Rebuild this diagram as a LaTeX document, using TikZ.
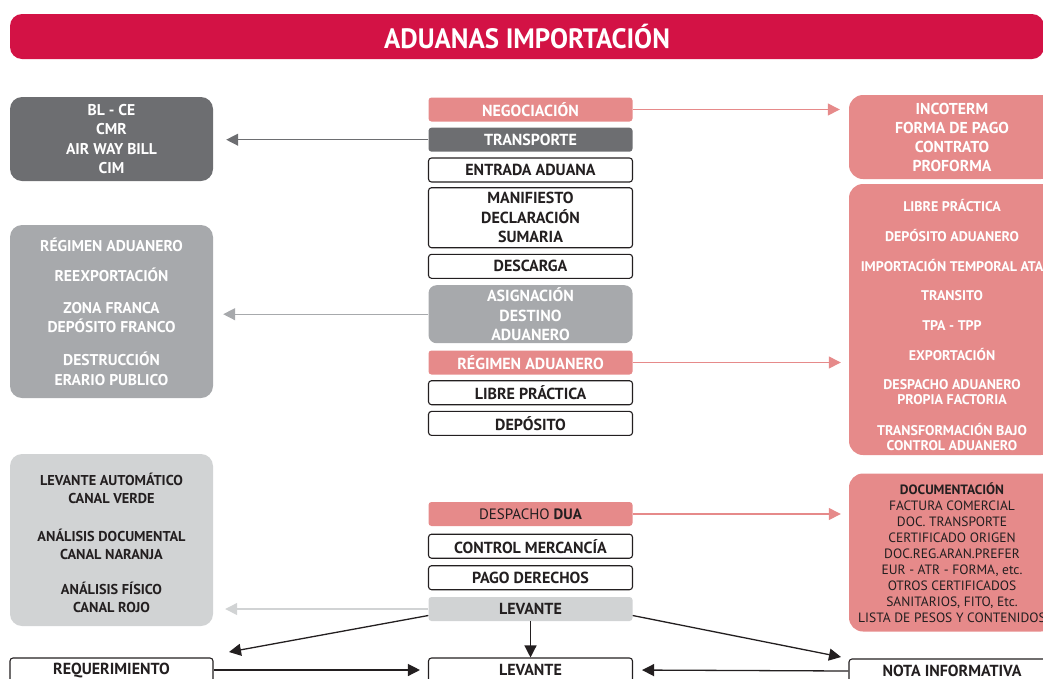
\documentclass[tikz,border=0pt]{standalone}
\usepackage{fontspec}
\setmainfont{PT Sans}
\newfontfamily\titlefont{PT Sans}[FakeStretch=0.96]
\usetikzlibrary{arrows.meta}
\definecolor{carmin}{HTML}{D31245}
\definecolor{rosa}{HTML}{E68A8A}
\definecolor{grisosc}{HTML}{6D6E71}
\definecolor{grismed}{HTML}{A7A9AC}
\definecolor{grisclaro}{HTML}{D1D3D4}
\definecolor{tinta}{HTML}{231F20}

\begin{document}
\begin{tikzpicture}[x=1pt,y=-1pt,
>={Triangle[length=12pt,width=12pt]},
titulo/.style={rectangle, rounded corners=12pt, fill=carmin, text=white, minimum width=1034pt, minimum height=45pt, font=\titlefont\bfseries\fontsize{28}{30}\selectfont},
paso/.style={rectangle, rounded corners=3pt, minimum width=204pt, minimum height=24pt, inner sep=0pt, align=center, font=\bfseries\fontsize{16}{19.5}\selectfont},
pasoblanco/.style={paso, draw=tinta, line width=1.1pt, fill=white, text=tinta},
pasorosa/.style={paso, fill=rosa, text=white},
pasogris/.style={paso, fill=grisosc, text=white},
lado/.style={rectangle, rounded corners=12pt, minimum width=203pt, inner sep=0pt, align=center, font=\bfseries\fontsize{15.6}{19.5}\selectfont},
derecha/.style={rectangle, rounded corners=14pt, minimum width=206pt, inner sep=0pt, align=center, fill=rosa, font=\bfseries\fontsize{15.8}{19}\selectfont},
texto/.style={align=center, inner sep=0pt},
flecha/.style={->, line width=1.3pt},
]
\useasboundingbox (0,0) rectangle (1043,678);

\node[titulo]                                   (tit)     at (527,36.5)  {ADUANAS IMPORTACIÓN};

\node[lado, fill=grisosc, text=white, minimum height=84pt]   (doc1)  at (111.5,139)   {BL - CE\\CMR\\AIR WAY BILL\\CIM};
\node[lado, fill=grismed, text=white, minimum height=173pt]  (reg1)  at (111.5,311.5) {RÉGIMEN ADUANERO\\[10.5pt]REEXPORTACIÓN\\[12.5pt]ZONA FRANCA\\DEPÓSITO FRANCO\\[13.5pt]DESTRUCCIÓN\\ERARIO PUBLICO};
\node[lado, fill=grisclaro, minimum height=172pt]            (canal) at (111.5,540)   {};
\node[texto, text=tinta, font=\bfseries\fontsize{14.3}{18}\selectfont] (canaltxt) at (111.5,543) {LEVANTE AUTOMÁTICO\\CANAL VERDE\\[20pt]ANÁLISIS DOCUMENTAL\\CANAL NARANJA\\[17pt]ANÁLISIS FÍSICO\\CANAL ROJO};
\node[pasoblanco, minimum width=203pt]         (req)     at (111.5,670)   {REQUERIMIENTO};

\node[pasorosa]                                 (neg)     at (530.5,109.5) {NEGOCIACIÓN};
\node[pasogris]                                 (trans)   at (530.5,139.7) {TRANSPORTE};
\node[pasoblanco]                               (entrada) at (530.5,170)   {ENTRADA ADUANA};
\node[pasoblanco, minimum height=60pt]          (manif)   at (530.5,217.7) {MANIFIESTO\\DECLARACIÓN\\SUMARIA};
\node[pasoblanco]                               (desc)    at (530.5,266.3) {DESCARGA};
\node[paso, fill=grismed, text=white, rounded corners=8pt, minimum height=58pt] (asign) at (530.5,314.2) {ASIGNACIÓN\\DESTINO\\ADUANERO};
\node[pasorosa]                                 (regimen) at (530.5,362.5) {RÉGIMEN ADUANERO};
\node[pasoblanco]                               (libre)   at (530.5,392.7) {LIBRE PRÁCTICA};
\node[pasoblanco]                               (depo)    at (530.5,423.4) {DEPÓSITO};
\node[pasorosa, text=tinta, font=\fontsize{15}{19.5}\selectfont] (dua) at (530.5,514) {DESPACHO \textbf{DUA}};
\node[pasoblanco]                               (control) at (530.5,546.2) {CONTROL MERCANCÍA};
\node[pasoblanco]                               (pago)    at (530.5,577.7) {PAGO DERECHOS};
\node[paso, fill=grisclaro, text=tinta]         (lev)     at (530.5,609)   {LEVANTE};
\node[pasoblanco]                               (levfin)  at (530.5,670)   {LEVANTE};

\node[derecha, text=white, minimum height=84pt]  (incot)  at (952,137)   {INCOTERM\\FORMA DE PAGO\\CONTRATO\\PROFORMA};
\node[derecha, minimum height=271pt]            (regim)   at (952,319.5) {};
\node[texto, text=white, font=\bfseries\fontsize{14}{15}\selectfont] (regimtxt) at (952,324.5) {LIBRE PRÁCTICA\\[15pt]DEPÓSITO ADUANERO\\[15pt]IMPORTACIÓN TEMPORAL ATA\\[14pt]TRANSITO\\[15pt]TPA - TPP\\[15pt]EXPORTACIÓN\\[14pt]DESPACHO ADUANERO\\PROPIA FACTORIA\\[16pt]TRANSFORMACIÓN BAJO\\CONTROL ADUANERO};
\node[derecha, text=tinta, minimum height=158pt, font=\fontsize{13.5}{16}\selectfont] (docum) at (952,552.5) {\textbf{DOCUMENTACIÓN}\\FACTURA COMERCIAL\\DOC. TRANSPORTE\\CERTIFICADO ORIGEN\\DOC.REG.ARAN.PREFER\\EUR - ATR - FORMA, etc.\\OTROS CERTIFICADOS\\SANITARIOS, FITO, Etc.\\LISTA DE PESOS Y CONTENIDOS};
\node[pasoblanco, minimum width=206pt]          (nota)    at (952,671)   {NOTA INFORMATIVA};

\coordinate (izq) at (229,652);
\coordinate (der) at (841,657);

\draw[flecha, rosa, shorten >=9pt]      (neg.east) -- (neg.east -| incot.west);
\draw[flecha, grisosc, shorten >=13pt]  (trans.west) -- (trans.west -| doc1.east);
\draw[flecha, grismed, shorten >=10pt]  (asign.west) -- (asign.west -| reg1.east);
\draw[flecha, rosa, shorten >=8pt]      (regimen.east) -- (regimen.east -| regim.west);
\draw[flecha, rosa, shorten >=8pt]      (dua.east) -- (dua.east -| docum.west);
\draw[flecha, grisclaro, shorten >=12pt] (lev.west) -- (lev.west -| canal.east);
\draw[flecha, tinta] ([yshift=-6.5pt]lev.west) -- (izq);
\draw[flecha, tinta] ([yshift=-6.5pt]lev.east) -- (der);
\draw[flecha, tinta] (lev.south) -- (levfin.north);
\draw[flecha, tinta, shorten >=8pt] (req.east) -- (levfin.west);
\draw[flecha, tinta, shorten >=9pt] (nota.west) -- (levfin.east);
\end{tikzpicture}
\end{document}
